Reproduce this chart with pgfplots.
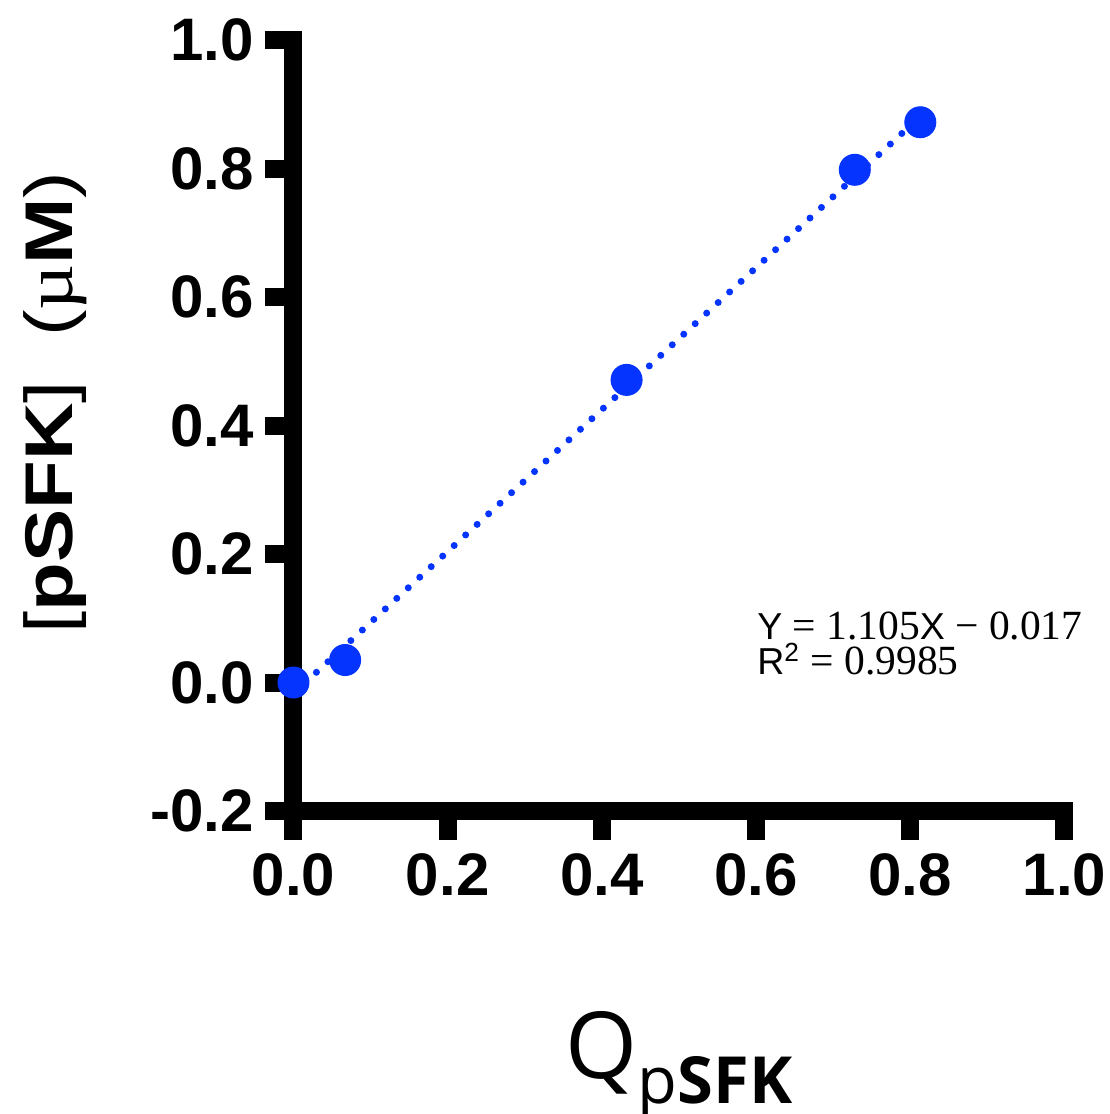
\documentclass[border=0pt]{standalone}
\usepackage{fontspec}
\usepackage{pgfplots}
\usepackage{pgfplotstable}
\pgfplotsset{compat=1.18}
\setmainfont{Liberation Sans}
\newfontfamily\serif{Liberation Serif}
\newfontfamily\opensans{Open Sans}
\definecolor{ptblue}{RGB}{5,51,255}

\pgfplotstableread{
x y
0.000 0.000
0.067 0.035
0.432 0.471
0.728 0.798
0.813 0.872
}\pts

\begin{document}
\begin{tikzpicture}
\useasboundingbox (-117.4pt,-121.2pt) rectangle (326.6pt,324.4pt);
\begin{axis}[
  scale only axis,
  width=308.4pt, height=308.4pt,
  xmin=0, xmax=1, ymin=-0.2, ymax=1,
  axis lines*=left,
  axis line style={line width=7.2pt, line cap=rect},
  tick align=outside,
  major tick length=11.4pt,
  tick style={line width=7.2pt, black},
  xtick={0,0.2,0.4,0.6,0.8,1.0},
  xticklabels={0.0,0.2,0.4,0.6,0.8,1.0},
  ytick={-0.2,0,0.2,0.4,0.6,0.8,1.0},
  yticklabels={-0.2,0.0,0.2,0.4,0.6,0.8,1.0},
  ticklabel style={font=\fontsize{24}{24}\selectfont\bfseries},
  xticklabel style={yshift=-2pt},
  yticklabel style={xshift=-1pt},
  clip=false,
  xlabel={\opensans\fontsize{37}{37}\selectfont Q\raisebox{-10pt}{\fontsize{26}{26}\selectfont p\bfseries SFK}},
  xlabel style={at={(axis description cs:0.5,0)}, anchor=base, yshift=-106.8pt},
  ylabel={\scalebox{1.18}[1]{\fontsize{27}{27}\selectfont\mdseries[\bfseries pSFK\mdseries]\ \ (\serif\textmu\rmfamily\bfseries M\mdseries)}},
  ylabel style={at={(axis description cs:-0.3093,0.53)}, anchor=center},
]
\addplot[ptblue, line width=2.8pt, line cap=round, dash pattern=on 0pt off 6.24pt]
  coordinates {(0,-0.017) (0.813,0.881)};
\addplot[only marks, mark=*, mark size=6.2pt, color=ptblue, mark options={fill=ptblue}]
  table {\pts};
\node[anchor=base west, inner sep=0pt] at (axis description cs:0.601,0.2231)
  {\fontsize{15}{15}\selectfont Y {\serif\fontsize{16.6}{16.6}\selectfont = 1.105}X {\serif\fontsize{16.6}{16.6}\selectfont \textminus{} 0.017}};
\node[anchor=base west, inner sep=0pt] at (axis description cs:0.601,0.1764)
  {\fontsize{15}{15}\selectfont R\textsuperscript{2} {\serif\fontsize{16.6}{16.6}\selectfont = 0.9985}};
\end{axis}
\end{tikzpicture}
\end{document}
